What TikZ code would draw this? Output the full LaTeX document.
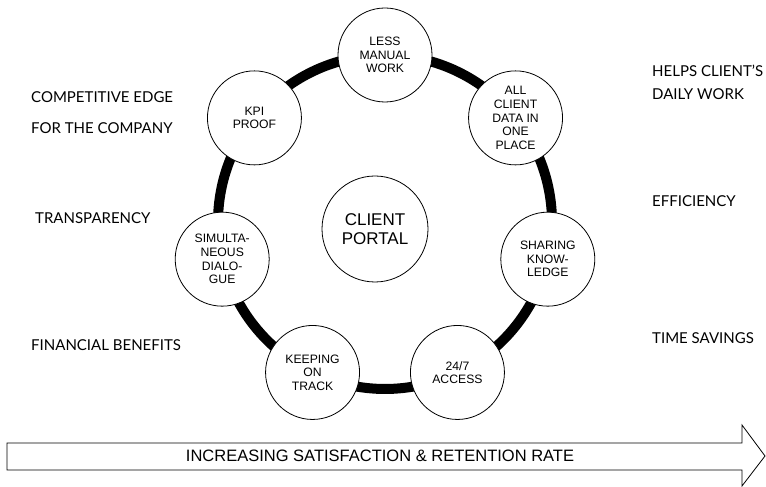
\documentclass[tikz,border=0pt]{standalone}
\usepackage{fontspec}
\setmainfont{Liberation Sans}
\newfontfamily\sidefont{Lato}
\usetikzlibrary{backgrounds}
\tikzset{
  benefit/.style={circle, draw, line width=0.8pt, fill=white, minimum size=94pt,
    inner sep=0pt, align=center, font=\fontsize{12.2}{13.6}\selectfont},
  hub/.style={circle, draw, line width=0.8pt, fill=white, minimum size=106pt,
    inner sep=0pt, align=center, font=\fontsize{17}{19}\selectfont},
  ring/.style={line width=10pt},
  gain/.style={anchor=west, align=left, inner sep=0pt, font=\sidefont\fontsize{15}{18}\selectfont},
}
\begin{document}
\begin{tikzpicture}[x=1pt, y=1pt]
  \useasboundingbox (0,0) rectangle (766,487);
  \begin{scope}[shift={(385,265)}]
    \node [benefit] (1) at (90:167pt)      {LESS\\MANUAL\\WORK};
    \node [benefit] (2) at (38.57:167pt)   {ALL\\CLIENT\\DATA IN\\ONE\\PLACE};
    \node [benefit] (3) at (-12.86:167pt)  {SHARING\\KNOW-\\LEDGE};
    \node [benefit] (4) at (-64.29:167pt)  {24/7\\ACCESS};
    \node [benefit] (5) at (-115.71:167pt) {KEEPING\\ON\\TRACK};
    \node [benefit] (6) at (-167.14:167pt) {SIMULTA-\\NEOUS\\DIALO-\\GUE};
    \node [benefit] (7) at (141.43:167pt)  {KPI\\PROOF};
  \end{scope}
  \node [hub] (c) at (375,258) {CLIENT\\PORTAL};
  \begin{scope}[on background layer]
    \draw [ring] (1.center) arc [start angle=90,      end angle=38.57,   radius=167pt];
    \draw [ring] (2.center) arc [start angle=38.57,   end angle=-12.86,  radius=167pt];
    \draw [ring] (3.center) arc [start angle=-12.86,  end angle=-64.29,  radius=167pt];
    \draw [ring] (4.center) arc [start angle=-64.29,  end angle=-115.71, radius=167pt];
    \draw [ring] (5.center) arc [start angle=-115.71, end angle=-167.14, radius=167pt];
    \draw [ring] (6.center) arc [start angle=-167.14, end angle=-218.57, radius=167pt];
    \draw [ring] (7.center) arc [start angle=141.43,  end angle=90,      radius=167pt];
  \end{scope}
  \node [gain] (edge)  at (31,374.5) {COMPETITIVE EDGE\\[13pt]FOR THE COMPANY};
  \node [gain] (trans) at (35,269)   {TRANSPARENCY};
  \node [gain] (fin)   at (31,142)   {FINANCIAL BENEFITS};
  \node [gain] (daily) at (652,405)  {HELPS CLIENT’S\\[5pt]DAILY WORK};
  \node [gain] (eff)   at (652,286)  {EFFICIENCY};
  \node [gain] (time)  at (652,149)  {TIME SAVINGS};
  \draw [line width=0.8pt] (7,17) -- (742,17) -- (742,1) -- (765,31) -- (742,62)
    -- (742,44) -- (7,44) -- cycle;
  \node [font=\fontsize{16.5}{19}\selectfont] (rate) at (380,31)
    {INCREASING SATISFACTION \& RETENTION RATE};
\end{tikzpicture}
\end{document}
